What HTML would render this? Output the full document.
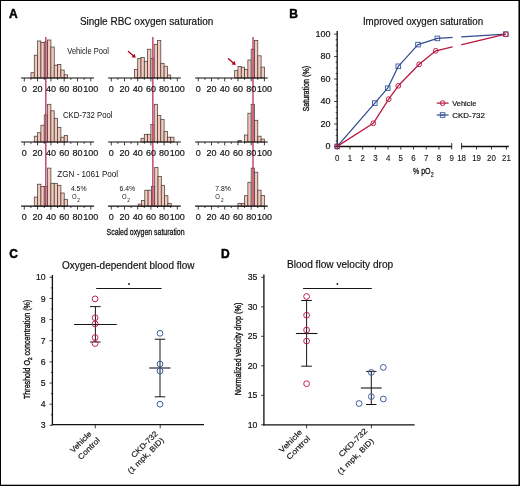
<!DOCTYPE html>
<html><head><meta charset="utf-8"><title>Figure</title>
<style>
html,body{margin:0;padding:0;background:#fff;}
body{width:520px;height:486px;overflow:hidden;}
svg{display:block;will-change:transform;}
text{font-family:"Liberation Sans", sans-serif;stroke:#111;stroke-width:0.18px;}
</style></head>
<body>
<svg width="520" height="486" viewBox="0 0 520 486" font-family="Liberation Sans, sans-serif">
<rect x="0" y="0" width="520" height="486" fill="#fff"/>
<g>
<rect x="30.95" y="72.70" width="3.33" height="5.30" fill="#F3CBBE" stroke="#4a3c3a" stroke-width="0.75"/>
<rect x="34.28" y="55.20" width="3.33" height="22.80" fill="#F3CBBE" stroke="#4a3c3a" stroke-width="0.75"/>
<rect x="37.60" y="41.00" width="3.33" height="37.00" fill="#F3CBBE" stroke="#4a3c3a" stroke-width="0.75"/>
<rect x="40.92" y="42.50" width="3.33" height="35.50" fill="#F3CBBE" stroke="#4a3c3a" stroke-width="0.75"/>
<rect x="44.25" y="42.00" width="3.33" height="36.00" fill="#F3CBBE" stroke="#4a3c3a" stroke-width="0.75"/>
<rect x="47.58" y="40.00" width="3.33" height="38.00" fill="#F3CBBE" stroke="#4a3c3a" stroke-width="0.75"/>
<rect x="50.90" y="47.00" width="3.33" height="31.00" fill="#F3CBBE" stroke="#4a3c3a" stroke-width="0.75"/>
<rect x="54.23" y="65.20" width="3.33" height="12.80" fill="#F3CBBE" stroke="#4a3c3a" stroke-width="0.75"/>
<rect x="57.55" y="64.40" width="3.33" height="13.60" fill="#F3CBBE" stroke="#4a3c3a" stroke-width="0.75"/>
<rect x="60.88" y="70.00" width="3.33" height="8.00" fill="#F3CBBE" stroke="#4a3c3a" stroke-width="0.75"/>
<rect x="64.20" y="74.80" width="3.33" height="3.20" fill="#F3CBBE" stroke="#4a3c3a" stroke-width="0.75"/>
<rect x="134.40" y="69.50" width="3.30" height="8.50" fill="#F3CBBE" stroke="#4a3c3a" stroke-width="0.75"/>
<rect x="137.70" y="58.40" width="3.30" height="19.60" fill="#F3CBBE" stroke="#4a3c3a" stroke-width="0.75"/>
<rect x="141.00" y="57.50" width="3.30" height="20.50" fill="#F3CBBE" stroke="#4a3c3a" stroke-width="0.75"/>
<rect x="144.30" y="61.30" width="3.30" height="16.70" fill="#F3CBBE" stroke="#4a3c3a" stroke-width="0.75"/>
<rect x="147.60" y="49.20" width="3.30" height="28.80" fill="#F3CBBE" stroke="#4a3c3a" stroke-width="0.75"/>
<rect x="150.90" y="58.40" width="3.30" height="19.60" fill="#F3CBBE" stroke="#4a3c3a" stroke-width="0.75"/>
<rect x="154.20" y="44.30" width="3.30" height="33.70" fill="#F3CBBE" stroke="#4a3c3a" stroke-width="0.75"/>
<rect x="157.50" y="40.40" width="3.30" height="37.60" fill="#F3CBBE" stroke="#4a3c3a" stroke-width="0.75"/>
<rect x="160.80" y="63.30" width="3.30" height="14.70" fill="#F3CBBE" stroke="#4a3c3a" stroke-width="0.75"/>
<rect x="164.10" y="66.20" width="3.30" height="11.80" fill="#F3CBBE" stroke="#4a3c3a" stroke-width="0.75"/>
<rect x="167.40" y="75.00" width="3.30" height="3.00" fill="#F3CBBE" stroke="#4a3c3a" stroke-width="0.75"/>
<rect x="234.66" y="70.50" width="3.31" height="7.50" fill="#F3CBBE" stroke="#4a3c3a" stroke-width="0.75"/>
<rect x="237.96" y="66.40" width="3.31" height="11.60" fill="#F3CBBE" stroke="#4a3c3a" stroke-width="0.75"/>
<rect x="241.27" y="67.20" width="3.31" height="10.80" fill="#F3CBBE" stroke="#4a3c3a" stroke-width="0.75"/>
<rect x="244.57" y="69.50" width="3.31" height="8.50" fill="#F3CBBE" stroke="#4a3c3a" stroke-width="0.75"/>
<rect x="247.88" y="60.00" width="3.31" height="18.00" fill="#F3CBBE" stroke="#4a3c3a" stroke-width="0.75"/>
<rect x="251.18" y="49.20" width="3.31" height="28.80" fill="#F3CBBE" stroke="#4a3c3a" stroke-width="0.75"/>
<rect x="254.49" y="40.40" width="3.31" height="37.60" fill="#F3CBBE" stroke="#4a3c3a" stroke-width="0.75"/>
<rect x="257.79" y="55.80" width="3.31" height="22.20" fill="#F3CBBE" stroke="#4a3c3a" stroke-width="0.75"/>
<rect x="261.10" y="67.10" width="3.31" height="10.90" fill="#F3CBBE" stroke="#4a3c3a" stroke-width="0.75"/>
<rect x="34.28" y="136.20" width="3.33" height="5.80" fill="#F3CBBE" stroke="#4a3c3a" stroke-width="0.75"/>
<rect x="37.60" y="132.70" width="3.33" height="9.30" fill="#F3CBBE" stroke="#4a3c3a" stroke-width="0.75"/>
<rect x="40.92" y="125.20" width="3.33" height="16.80" fill="#F3CBBE" stroke="#4a3c3a" stroke-width="0.75"/>
<rect x="44.25" y="114.90" width="3.33" height="27.10" fill="#F3CBBE" stroke="#4a3c3a" stroke-width="0.75"/>
<rect x="47.58" y="104.30" width="3.33" height="37.70" fill="#F3CBBE" stroke="#4a3c3a" stroke-width="0.75"/>
<rect x="50.90" y="110.80" width="3.33" height="31.20" fill="#F3CBBE" stroke="#4a3c3a" stroke-width="0.75"/>
<rect x="54.23" y="118.30" width="3.33" height="23.70" fill="#F3CBBE" stroke="#4a3c3a" stroke-width="0.75"/>
<rect x="57.55" y="127.60" width="3.33" height="14.40" fill="#F3CBBE" stroke="#4a3c3a" stroke-width="0.75"/>
<rect x="60.88" y="137.20" width="3.33" height="4.80" fill="#F3CBBE" stroke="#4a3c3a" stroke-width="0.75"/>
<rect x="64.20" y="135.50" width="3.33" height="6.50" fill="#F3CBBE" stroke="#4a3c3a" stroke-width="0.75"/>
<rect x="141.00" y="138.30" width="3.30" height="3.70" fill="#F3CBBE" stroke="#4a3c3a" stroke-width="0.75"/>
<rect x="144.30" y="134.30" width="3.30" height="7.70" fill="#F3CBBE" stroke="#4a3c3a" stroke-width="0.75"/>
<rect x="147.60" y="134.30" width="3.30" height="7.70" fill="#F3CBBE" stroke="#4a3c3a" stroke-width="0.75"/>
<rect x="150.90" y="124.50" width="3.30" height="17.50" fill="#F3CBBE" stroke="#4a3c3a" stroke-width="0.75"/>
<rect x="154.20" y="104.30" width="3.30" height="37.70" fill="#F3CBBE" stroke="#4a3c3a" stroke-width="0.75"/>
<rect x="157.50" y="115.60" width="3.30" height="26.40" fill="#F3CBBE" stroke="#4a3c3a" stroke-width="0.75"/>
<rect x="160.80" y="119.30" width="3.30" height="22.70" fill="#F3CBBE" stroke="#4a3c3a" stroke-width="0.75"/>
<rect x="164.10" y="131.40" width="3.30" height="10.60" fill="#F3CBBE" stroke="#4a3c3a" stroke-width="0.75"/>
<rect x="167.40" y="137.20" width="3.30" height="4.80" fill="#F3CBBE" stroke="#4a3c3a" stroke-width="0.75"/>
<rect x="170.70" y="137.20" width="3.30" height="4.80" fill="#F3CBBE" stroke="#4a3c3a" stroke-width="0.75"/>
<rect x="237.96" y="140.40" width="3.31" height="1.60" fill="#F3CBBE" stroke="#4a3c3a" stroke-width="0.75"/>
<rect x="244.57" y="135.00" width="3.31" height="7.00" fill="#F3CBBE" stroke="#4a3c3a" stroke-width="0.75"/>
<rect x="247.88" y="113.20" width="3.31" height="28.80" fill="#F3CBBE" stroke="#4a3c3a" stroke-width="0.75"/>
<rect x="251.18" y="104.30" width="3.31" height="37.70" fill="#F3CBBE" stroke="#4a3c3a" stroke-width="0.75"/>
<rect x="254.49" y="120.30" width="3.31" height="21.70" fill="#F3CBBE" stroke="#4a3c3a" stroke-width="0.75"/>
<rect x="257.79" y="136.20" width="3.31" height="5.80" fill="#F3CBBE" stroke="#4a3c3a" stroke-width="0.75"/>
<rect x="261.10" y="139.10" width="3.31" height="2.90" fill="#F3CBBE" stroke="#4a3c3a" stroke-width="0.75"/>
<rect x="34.28" y="197.10" width="3.33" height="9.10" fill="#F3CBBE" stroke="#4a3c3a" stroke-width="0.75"/>
<rect x="37.60" y="184.20" width="3.33" height="22.00" fill="#F3CBBE" stroke="#4a3c3a" stroke-width="0.75"/>
<rect x="40.92" y="186.60" width="3.33" height="19.60" fill="#F3CBBE" stroke="#4a3c3a" stroke-width="0.75"/>
<rect x="44.25" y="186.40" width="3.33" height="19.80" fill="#F3CBBE" stroke="#4a3c3a" stroke-width="0.75"/>
<rect x="47.58" y="168.10" width="3.33" height="38.10" fill="#F3CBBE" stroke="#4a3c3a" stroke-width="0.75"/>
<rect x="50.90" y="183.30" width="3.33" height="22.90" fill="#F3CBBE" stroke="#4a3c3a" stroke-width="0.75"/>
<rect x="54.23" y="183.30" width="3.33" height="22.90" fill="#F3CBBE" stroke="#4a3c3a" stroke-width="0.75"/>
<rect x="57.55" y="185.30" width="3.33" height="20.90" fill="#F3CBBE" stroke="#4a3c3a" stroke-width="0.75"/>
<rect x="60.88" y="193.00" width="3.33" height="13.20" fill="#F3CBBE" stroke="#4a3c3a" stroke-width="0.75"/>
<rect x="64.20" y="199.50" width="3.33" height="6.70" fill="#F3CBBE" stroke="#4a3c3a" stroke-width="0.75"/>
<rect x="138.20" y="204.10" width="3.30" height="2.10" fill="#F3CBBE" stroke="#4a3c3a" stroke-width="0.75"/>
<rect x="141.50" y="200.50" width="3.30" height="5.70" fill="#F3CBBE" stroke="#4a3c3a" stroke-width="0.75"/>
<rect x="144.80" y="190.20" width="3.30" height="16.00" fill="#F3CBBE" stroke="#4a3c3a" stroke-width="0.75"/>
<rect x="148.10" y="190.20" width="3.30" height="16.00" fill="#F3CBBE" stroke="#4a3c3a" stroke-width="0.75"/>
<rect x="151.40" y="186.40" width="3.30" height="19.80" fill="#F3CBBE" stroke="#4a3c3a" stroke-width="0.75"/>
<rect x="154.70" y="167.60" width="3.30" height="38.60" fill="#F3CBBE" stroke="#4a3c3a" stroke-width="0.75"/>
<rect x="158.00" y="176.50" width="3.30" height="29.70" fill="#F3CBBE" stroke="#4a3c3a" stroke-width="0.75"/>
<rect x="161.30" y="185.30" width="3.30" height="20.90" fill="#F3CBBE" stroke="#4a3c3a" stroke-width="0.75"/>
<rect x="164.60" y="195.70" width="3.30" height="10.50" fill="#F3CBBE" stroke="#4a3c3a" stroke-width="0.75"/>
<rect x="167.90" y="203.30" width="3.30" height="2.90" fill="#F3CBBE" stroke="#4a3c3a" stroke-width="0.75"/>
<rect x="237.96" y="203.30" width="3.31" height="2.90" fill="#F3CBBE" stroke="#4a3c3a" stroke-width="0.75"/>
<rect x="241.27" y="203.60" width="3.31" height="2.60" fill="#F3CBBE" stroke="#4a3c3a" stroke-width="0.75"/>
<rect x="244.57" y="195.70" width="3.31" height="10.50" fill="#F3CBBE" stroke="#4a3c3a" stroke-width="0.75"/>
<rect x="247.88" y="182.30" width="3.31" height="23.90" fill="#F3CBBE" stroke="#4a3c3a" stroke-width="0.75"/>
<rect x="251.18" y="168.10" width="3.31" height="38.10" fill="#F3CBBE" stroke="#4a3c3a" stroke-width="0.75"/>
<rect x="254.49" y="172.20" width="3.31" height="34.00" fill="#F3CBBE" stroke="#4a3c3a" stroke-width="0.75"/>
<rect x="257.79" y="190.20" width="3.31" height="16.00" fill="#F3CBBE" stroke="#4a3c3a" stroke-width="0.75"/>
<rect x="261.10" y="195.60" width="3.31" height="10.60" fill="#F3CBBE" stroke="#4a3c3a" stroke-width="0.75"/>
</g>
<line x1="45.8" y1="36.9" x2="45.8" y2="206.3" stroke="#BE3C68" stroke-width="1.4"/>
<line x1="152.85" y1="36.9" x2="152.85" y2="206.3" stroke="#BE3C68" stroke-width="1.4"/>
<line x1="253.0" y1="36.9" x2="253.0" y2="206.3" stroke="#BE3C68" stroke-width="1.4"/>
<line x1="21.1" y1="78.0" x2="94.0" y2="78.0" stroke="#111" stroke-width="1.2"/>
<line x1="24.30" y1="78.0" x2="24.30" y2="81.4" stroke="#111" stroke-width="0.8"/>
<line x1="30.95" y1="78.0" x2="30.95" y2="79.8" stroke="#111" stroke-width="0.8"/>
<line x1="37.60" y1="78.0" x2="37.60" y2="81.4" stroke="#111" stroke-width="0.8"/>
<line x1="44.25" y1="78.0" x2="44.25" y2="79.8" stroke="#111" stroke-width="0.8"/>
<line x1="50.90" y1="78.0" x2="50.90" y2="81.4" stroke="#111" stroke-width="0.8"/>
<line x1="57.55" y1="78.0" x2="57.55" y2="79.8" stroke="#111" stroke-width="0.8"/>
<line x1="64.20" y1="78.0" x2="64.20" y2="81.4" stroke="#111" stroke-width="0.8"/>
<line x1="70.85" y1="78.0" x2="70.85" y2="79.8" stroke="#111" stroke-width="0.8"/>
<line x1="77.50" y1="78.0" x2="77.50" y2="81.4" stroke="#111" stroke-width="0.8"/>
<line x1="84.15" y1="78.0" x2="84.15" y2="79.8" stroke="#111" stroke-width="0.8"/>
<line x1="90.80" y1="78.0" x2="90.80" y2="81.4" stroke="#111" stroke-width="0.8"/>
<text x="24.30" y="91.80" font-size="9.0" text-anchor="middle" fill="#111" >0</text>
<text x="37.60" y="91.80" font-size="9.0" text-anchor="middle" fill="#111" >20</text>
<text x="50.90" y="91.80" font-size="9.0" text-anchor="middle" fill="#111" >40</text>
<text x="64.20" y="91.80" font-size="9.0" text-anchor="middle" fill="#111" >60</text>
<text x="77.50" y="91.80" font-size="9.0" text-anchor="middle" fill="#111" >80</text>
<text x="90.80" y="91.80" font-size="9.0" text-anchor="middle" fill="#111" >100</text>
<line x1="108.1" y1="78.0" x2="180.8" y2="78.0" stroke="#111" stroke-width="1.2"/>
<line x1="111.30" y1="78.0" x2="111.30" y2="81.4" stroke="#111" stroke-width="0.8"/>
<line x1="117.90" y1="78.0" x2="117.90" y2="79.8" stroke="#111" stroke-width="0.8"/>
<line x1="124.50" y1="78.0" x2="124.50" y2="81.4" stroke="#111" stroke-width="0.8"/>
<line x1="131.10" y1="78.0" x2="131.10" y2="79.8" stroke="#111" stroke-width="0.8"/>
<line x1="137.70" y1="78.0" x2="137.70" y2="81.4" stroke="#111" stroke-width="0.8"/>
<line x1="144.30" y1="78.0" x2="144.30" y2="79.8" stroke="#111" stroke-width="0.8"/>
<line x1="150.90" y1="78.0" x2="150.90" y2="81.4" stroke="#111" stroke-width="0.8"/>
<line x1="157.50" y1="78.0" x2="157.50" y2="79.8" stroke="#111" stroke-width="0.8"/>
<line x1="164.10" y1="78.0" x2="164.10" y2="81.4" stroke="#111" stroke-width="0.8"/>
<line x1="170.70" y1="78.0" x2="170.70" y2="79.8" stroke="#111" stroke-width="0.8"/>
<line x1="177.30" y1="78.0" x2="177.30" y2="81.4" stroke="#111" stroke-width="0.8"/>
<text x="111.30" y="91.80" font-size="9.0" text-anchor="middle" fill="#111" >0</text>
<text x="124.50" y="91.80" font-size="9.0" text-anchor="middle" fill="#111" >20</text>
<text x="137.70" y="91.80" font-size="9.0" text-anchor="middle" fill="#111" >40</text>
<text x="150.90" y="91.80" font-size="9.0" text-anchor="middle" fill="#111" >60</text>
<text x="164.10" y="91.80" font-size="9.0" text-anchor="middle" fill="#111" >80</text>
<text x="177.30" y="91.80" font-size="9.0" text-anchor="middle" fill="#111" >100</text>
<line x1="195.1" y1="78.0" x2="267.8" y2="78.0" stroke="#111" stroke-width="1.2"/>
<line x1="198.30" y1="78.0" x2="198.30" y2="81.4" stroke="#111" stroke-width="0.8"/>
<line x1="204.91" y1="78.0" x2="204.91" y2="79.8" stroke="#111" stroke-width="0.8"/>
<line x1="211.52" y1="78.0" x2="211.52" y2="81.4" stroke="#111" stroke-width="0.8"/>
<line x1="218.13" y1="78.0" x2="218.13" y2="79.8" stroke="#111" stroke-width="0.8"/>
<line x1="224.74" y1="78.0" x2="224.74" y2="81.4" stroke="#111" stroke-width="0.8"/>
<line x1="231.35" y1="78.0" x2="231.35" y2="79.8" stroke="#111" stroke-width="0.8"/>
<line x1="237.96" y1="78.0" x2="237.96" y2="81.4" stroke="#111" stroke-width="0.8"/>
<line x1="244.57" y1="78.0" x2="244.57" y2="79.8" stroke="#111" stroke-width="0.8"/>
<line x1="251.18" y1="78.0" x2="251.18" y2="81.4" stroke="#111" stroke-width="0.8"/>
<line x1="257.79" y1="78.0" x2="257.79" y2="79.8" stroke="#111" stroke-width="0.8"/>
<line x1="264.40" y1="78.0" x2="264.40" y2="81.4" stroke="#111" stroke-width="0.8"/>
<text x="198.30" y="91.80" font-size="9.0" text-anchor="middle" fill="#111" >0</text>
<text x="211.52" y="91.80" font-size="9.0" text-anchor="middle" fill="#111" >20</text>
<text x="224.74" y="91.80" font-size="9.0" text-anchor="middle" fill="#111" >40</text>
<text x="237.96" y="91.80" font-size="9.0" text-anchor="middle" fill="#111" >60</text>
<text x="251.18" y="91.80" font-size="9.0" text-anchor="middle" fill="#111" >80</text>
<text x="264.40" y="91.80" font-size="9.0" text-anchor="middle" fill="#111" >100</text>
<line x1="21.1" y1="142.0" x2="94.0" y2="142.0" stroke="#111" stroke-width="1.2"/>
<line x1="24.30" y1="142.0" x2="24.30" y2="145.4" stroke="#111" stroke-width="0.8"/>
<line x1="30.95" y1="142.0" x2="30.95" y2="143.8" stroke="#111" stroke-width="0.8"/>
<line x1="37.60" y1="142.0" x2="37.60" y2="145.4" stroke="#111" stroke-width="0.8"/>
<line x1="44.25" y1="142.0" x2="44.25" y2="143.8" stroke="#111" stroke-width="0.8"/>
<line x1="50.90" y1="142.0" x2="50.90" y2="145.4" stroke="#111" stroke-width="0.8"/>
<line x1="57.55" y1="142.0" x2="57.55" y2="143.8" stroke="#111" stroke-width="0.8"/>
<line x1="64.20" y1="142.0" x2="64.20" y2="145.4" stroke="#111" stroke-width="0.8"/>
<line x1="70.85" y1="142.0" x2="70.85" y2="143.8" stroke="#111" stroke-width="0.8"/>
<line x1="77.50" y1="142.0" x2="77.50" y2="145.4" stroke="#111" stroke-width="0.8"/>
<line x1="84.15" y1="142.0" x2="84.15" y2="143.8" stroke="#111" stroke-width="0.8"/>
<line x1="90.80" y1="142.0" x2="90.80" y2="145.4" stroke="#111" stroke-width="0.8"/>
<text x="24.30" y="155.80" font-size="9.0" text-anchor="middle" fill="#111" >0</text>
<text x="37.60" y="155.80" font-size="9.0" text-anchor="middle" fill="#111" >20</text>
<text x="50.90" y="155.80" font-size="9.0" text-anchor="middle" fill="#111" >40</text>
<text x="64.20" y="155.80" font-size="9.0" text-anchor="middle" fill="#111" >60</text>
<text x="77.50" y="155.80" font-size="9.0" text-anchor="middle" fill="#111" >80</text>
<text x="90.80" y="155.80" font-size="9.0" text-anchor="middle" fill="#111" >100</text>
<line x1="108.1" y1="142.0" x2="180.8" y2="142.0" stroke="#111" stroke-width="1.2"/>
<line x1="111.30" y1="142.0" x2="111.30" y2="145.4" stroke="#111" stroke-width="0.8"/>
<line x1="117.90" y1="142.0" x2="117.90" y2="143.8" stroke="#111" stroke-width="0.8"/>
<line x1="124.50" y1="142.0" x2="124.50" y2="145.4" stroke="#111" stroke-width="0.8"/>
<line x1="131.10" y1="142.0" x2="131.10" y2="143.8" stroke="#111" stroke-width="0.8"/>
<line x1="137.70" y1="142.0" x2="137.70" y2="145.4" stroke="#111" stroke-width="0.8"/>
<line x1="144.30" y1="142.0" x2="144.30" y2="143.8" stroke="#111" stroke-width="0.8"/>
<line x1="150.90" y1="142.0" x2="150.90" y2="145.4" stroke="#111" stroke-width="0.8"/>
<line x1="157.50" y1="142.0" x2="157.50" y2="143.8" stroke="#111" stroke-width="0.8"/>
<line x1="164.10" y1="142.0" x2="164.10" y2="145.4" stroke="#111" stroke-width="0.8"/>
<line x1="170.70" y1="142.0" x2="170.70" y2="143.8" stroke="#111" stroke-width="0.8"/>
<line x1="177.30" y1="142.0" x2="177.30" y2="145.4" stroke="#111" stroke-width="0.8"/>
<text x="111.30" y="155.80" font-size="9.0" text-anchor="middle" fill="#111" >0</text>
<text x="124.50" y="155.80" font-size="9.0" text-anchor="middle" fill="#111" >20</text>
<text x="137.70" y="155.80" font-size="9.0" text-anchor="middle" fill="#111" >40</text>
<text x="150.90" y="155.80" font-size="9.0" text-anchor="middle" fill="#111" >60</text>
<text x="164.10" y="155.80" font-size="9.0" text-anchor="middle" fill="#111" >80</text>
<text x="177.30" y="155.80" font-size="9.0" text-anchor="middle" fill="#111" >100</text>
<line x1="195.1" y1="142.0" x2="267.8" y2="142.0" stroke="#111" stroke-width="1.2"/>
<line x1="198.30" y1="142.0" x2="198.30" y2="145.4" stroke="#111" stroke-width="0.8"/>
<line x1="204.91" y1="142.0" x2="204.91" y2="143.8" stroke="#111" stroke-width="0.8"/>
<line x1="211.52" y1="142.0" x2="211.52" y2="145.4" stroke="#111" stroke-width="0.8"/>
<line x1="218.13" y1="142.0" x2="218.13" y2="143.8" stroke="#111" stroke-width="0.8"/>
<line x1="224.74" y1="142.0" x2="224.74" y2="145.4" stroke="#111" stroke-width="0.8"/>
<line x1="231.35" y1="142.0" x2="231.35" y2="143.8" stroke="#111" stroke-width="0.8"/>
<line x1="237.96" y1="142.0" x2="237.96" y2="145.4" stroke="#111" stroke-width="0.8"/>
<line x1="244.57" y1="142.0" x2="244.57" y2="143.8" stroke="#111" stroke-width="0.8"/>
<line x1="251.18" y1="142.0" x2="251.18" y2="145.4" stroke="#111" stroke-width="0.8"/>
<line x1="257.79" y1="142.0" x2="257.79" y2="143.8" stroke="#111" stroke-width="0.8"/>
<line x1="264.40" y1="142.0" x2="264.40" y2="145.4" stroke="#111" stroke-width="0.8"/>
<text x="198.30" y="155.80" font-size="9.0" text-anchor="middle" fill="#111" >0</text>
<text x="211.52" y="155.80" font-size="9.0" text-anchor="middle" fill="#111" >20</text>
<text x="224.74" y="155.80" font-size="9.0" text-anchor="middle" fill="#111" >40</text>
<text x="237.96" y="155.80" font-size="9.0" text-anchor="middle" fill="#111" >60</text>
<text x="251.18" y="155.80" font-size="9.0" text-anchor="middle" fill="#111" >80</text>
<text x="264.40" y="155.80" font-size="9.0" text-anchor="middle" fill="#111" >100</text>
<line x1="21.1" y1="206.2" x2="94.0" y2="206.2" stroke="#111" stroke-width="1.2"/>
<line x1="24.30" y1="206.2" x2="24.30" y2="209.6" stroke="#111" stroke-width="0.8"/>
<line x1="30.95" y1="206.2" x2="30.95" y2="208.0" stroke="#111" stroke-width="0.8"/>
<line x1="37.60" y1="206.2" x2="37.60" y2="209.6" stroke="#111" stroke-width="0.8"/>
<line x1="44.25" y1="206.2" x2="44.25" y2="208.0" stroke="#111" stroke-width="0.8"/>
<line x1="50.90" y1="206.2" x2="50.90" y2="209.6" stroke="#111" stroke-width="0.8"/>
<line x1="57.55" y1="206.2" x2="57.55" y2="208.0" stroke="#111" stroke-width="0.8"/>
<line x1="64.20" y1="206.2" x2="64.20" y2="209.6" stroke="#111" stroke-width="0.8"/>
<line x1="70.85" y1="206.2" x2="70.85" y2="208.0" stroke="#111" stroke-width="0.8"/>
<line x1="77.50" y1="206.2" x2="77.50" y2="209.6" stroke="#111" stroke-width="0.8"/>
<line x1="84.15" y1="206.2" x2="84.15" y2="208.0" stroke="#111" stroke-width="0.8"/>
<line x1="90.80" y1="206.2" x2="90.80" y2="209.6" stroke="#111" stroke-width="0.8"/>
<text x="24.30" y="220.00" font-size="9.0" text-anchor="middle" fill="#111" >0</text>
<text x="37.60" y="220.00" font-size="9.0" text-anchor="middle" fill="#111" >20</text>
<text x="50.90" y="220.00" font-size="9.0" text-anchor="middle" fill="#111" >40</text>
<text x="64.20" y="220.00" font-size="9.0" text-anchor="middle" fill="#111" >60</text>
<text x="77.50" y="220.00" font-size="9.0" text-anchor="middle" fill="#111" >80</text>
<text x="90.80" y="220.00" font-size="9.0" text-anchor="middle" fill="#111" >100</text>
<line x1="108.1" y1="206.2" x2="180.8" y2="206.2" stroke="#111" stroke-width="1.2"/>
<line x1="111.30" y1="206.2" x2="111.30" y2="209.6" stroke="#111" stroke-width="0.8"/>
<line x1="117.90" y1="206.2" x2="117.90" y2="208.0" stroke="#111" stroke-width="0.8"/>
<line x1="124.50" y1="206.2" x2="124.50" y2="209.6" stroke="#111" stroke-width="0.8"/>
<line x1="131.10" y1="206.2" x2="131.10" y2="208.0" stroke="#111" stroke-width="0.8"/>
<line x1="137.70" y1="206.2" x2="137.70" y2="209.6" stroke="#111" stroke-width="0.8"/>
<line x1="144.30" y1="206.2" x2="144.30" y2="208.0" stroke="#111" stroke-width="0.8"/>
<line x1="150.90" y1="206.2" x2="150.90" y2="209.6" stroke="#111" stroke-width="0.8"/>
<line x1="157.50" y1="206.2" x2="157.50" y2="208.0" stroke="#111" stroke-width="0.8"/>
<line x1="164.10" y1="206.2" x2="164.10" y2="209.6" stroke="#111" stroke-width="0.8"/>
<line x1="170.70" y1="206.2" x2="170.70" y2="208.0" stroke="#111" stroke-width="0.8"/>
<line x1="177.30" y1="206.2" x2="177.30" y2="209.6" stroke="#111" stroke-width="0.8"/>
<text x="111.30" y="220.00" font-size="9.0" text-anchor="middle" fill="#111" >0</text>
<text x="124.50" y="220.00" font-size="9.0" text-anchor="middle" fill="#111" >20</text>
<text x="137.70" y="220.00" font-size="9.0" text-anchor="middle" fill="#111" >40</text>
<text x="150.90" y="220.00" font-size="9.0" text-anchor="middle" fill="#111" >60</text>
<text x="164.10" y="220.00" font-size="9.0" text-anchor="middle" fill="#111" >80</text>
<text x="177.30" y="220.00" font-size="9.0" text-anchor="middle" fill="#111" >100</text>
<line x1="195.1" y1="206.2" x2="267.8" y2="206.2" stroke="#111" stroke-width="1.2"/>
<line x1="198.30" y1="206.2" x2="198.30" y2="209.6" stroke="#111" stroke-width="0.8"/>
<line x1="204.91" y1="206.2" x2="204.91" y2="208.0" stroke="#111" stroke-width="0.8"/>
<line x1="211.52" y1="206.2" x2="211.52" y2="209.6" stroke="#111" stroke-width="0.8"/>
<line x1="218.13" y1="206.2" x2="218.13" y2="208.0" stroke="#111" stroke-width="0.8"/>
<line x1="224.74" y1="206.2" x2="224.74" y2="209.6" stroke="#111" stroke-width="0.8"/>
<line x1="231.35" y1="206.2" x2="231.35" y2="208.0" stroke="#111" stroke-width="0.8"/>
<line x1="237.96" y1="206.2" x2="237.96" y2="209.6" stroke="#111" stroke-width="0.8"/>
<line x1="244.57" y1="206.2" x2="244.57" y2="208.0" stroke="#111" stroke-width="0.8"/>
<line x1="251.18" y1="206.2" x2="251.18" y2="209.6" stroke="#111" stroke-width="0.8"/>
<line x1="257.79" y1="206.2" x2="257.79" y2="208.0" stroke="#111" stroke-width="0.8"/>
<line x1="264.40" y1="206.2" x2="264.40" y2="209.6" stroke="#111" stroke-width="0.8"/>
<text x="198.30" y="220.00" font-size="9.0" text-anchor="middle" fill="#111" >0</text>
<text x="211.52" y="220.00" font-size="9.0" text-anchor="middle" fill="#111" >20</text>
<text x="224.74" y="220.00" font-size="9.0" text-anchor="middle" fill="#111" >40</text>
<text x="237.96" y="220.00" font-size="9.0" text-anchor="middle" fill="#111" >60</text>
<text x="251.18" y="220.00" font-size="9.0" text-anchor="middle" fill="#111" >80</text>
<text x="264.40" y="220.00" font-size="9.0" text-anchor="middle" fill="#111" >100</text>
<line x1="128.4" y1="51.5" x2="133.06" y2="55.47" stroke="#B0001E" stroke-width="1.3" stroke-linecap="round"/>
<polygon points="135.8,57.8 131.57,57.22 134.55,53.72" fill="#B0001E"/>
<line x1="228.4" y1="58.7" x2="233.08" y2="62.75" stroke="#B0001E" stroke-width="1.3" stroke-linecap="round"/>
<polygon points="235.8,65.1 231.57,64.48 234.58,61.01" fill="#B0001E"/>
<text x="9.1" y="17.7" font-size="12" font-weight="bold" fill="#000" style="stroke:#000;stroke-width:0.45px">A</text>
<text x="79.9" y="24.9" font-size="10.3" textLength="133.4" lengthAdjust="spacingAndGlyphs" fill="#111" >Single RBC oxygen saturation</text>
<text x="67.3" y="53.8" font-size="8.4" textLength="41.6" lengthAdjust="spacingAndGlyphs" fill="#111" style="stroke:none">Vehicle Pool</text>
<text x="62.9" y="117.7" font-size="8.4" textLength="49.7" lengthAdjust="spacingAndGlyphs" fill="#111" style="stroke:none">CKD-732 Pool</text>
<text x="57.3" y="176.5" font-size="8.4" textLength="60.8" lengthAdjust="spacingAndGlyphs" fill="#111" style="stroke:none">ZGN - 1061 Pool</text>
<text x="70.9" y="190.9" font-size="6.8" textLength="15.6" lengthAdjust="spacingAndGlyphs" fill="#111" style="stroke:none">4.5%</text>
<text x="71.9" y="199.4" font-size="7.9" textLength="4.6" lengthAdjust="spacingAndGlyphs" fill="#111" style="stroke:none">O</text>
<text x="77.2" y="201.6" font-size="5.0" textLength="2.6" lengthAdjust="spacingAndGlyphs" fill="#111" style="stroke:none">2</text>
<text x="119.5" y="190.9" font-size="6.8" textLength="15.6" lengthAdjust="spacingAndGlyphs" fill="#111" style="stroke:none">6.4%</text>
<text x="121.9" y="199.4" font-size="7.9" textLength="4.6" lengthAdjust="spacingAndGlyphs" fill="#111" style="stroke:none">O</text>
<text x="127.2" y="201.6" font-size="5.0" textLength="2.6" lengthAdjust="spacingAndGlyphs" fill="#111" style="stroke:none">2</text>
<text x="215.2" y="190.9" font-size="6.8" textLength="15.6" lengthAdjust="spacingAndGlyphs" fill="#111" style="stroke:none">7.8%</text>
<text x="215.2" y="199.4" font-size="7.9" textLength="4.6" lengthAdjust="spacingAndGlyphs" fill="#111" style="stroke:none">O</text>
<text x="220.9" y="201.6" font-size="5.0" textLength="2.6" lengthAdjust="spacingAndGlyphs" fill="#111" style="stroke:none">2</text>
<text x="106.6" y="234.5" font-size="9.8" textLength="78.0" lengthAdjust="spacingAndGlyphs" fill="#111" style="stroke-width:0.3px">Scaled oxygen saturation</text>
<text x="289.2" y="18.0" font-size="12" font-weight="bold" fill="#000" style="stroke:#000;stroke-width:0.45px">B</text>
<text x="362.9" y="25.1" font-size="10.3" textLength="120.2" lengthAdjust="spacingAndGlyphs" fill="#111" >Improved oxygen saturation</text>
<line x1="337.2" y1="31.0" x2="337.2" y2="147.1" stroke="#111" stroke-width="1.3"/>
<line x1="334.09999999999997" y1="146.50" x2="337.2" y2="146.50" stroke="#111" stroke-width="0.8"/>
<text x="330.6" y="149.30" font-size="9.0" text-anchor="end" fill="#111" >0</text>
<line x1="335.7" y1="140.88" x2="337.2" y2="140.88" stroke="#111" stroke-width="0.8"/>
<line x1="335.7" y1="135.26" x2="337.2" y2="135.26" stroke="#111" stroke-width="0.8"/>
<line x1="335.7" y1="129.64" x2="337.2" y2="129.64" stroke="#111" stroke-width="0.8"/>
<line x1="334.09999999999997" y1="124.02" x2="337.2" y2="124.02" stroke="#111" stroke-width="0.8"/>
<text x="330.6" y="126.82" font-size="9.0" text-anchor="end" fill="#111" >20</text>
<line x1="335.7" y1="118.40" x2="337.2" y2="118.40" stroke="#111" stroke-width="0.8"/>
<line x1="335.7" y1="112.78" x2="337.2" y2="112.78" stroke="#111" stroke-width="0.8"/>
<line x1="335.7" y1="107.16" x2="337.2" y2="107.16" stroke="#111" stroke-width="0.8"/>
<line x1="334.09999999999997" y1="101.54" x2="337.2" y2="101.54" stroke="#111" stroke-width="0.8"/>
<text x="330.6" y="104.34" font-size="9.0" text-anchor="end" fill="#111" >40</text>
<line x1="335.7" y1="95.92" x2="337.2" y2="95.92" stroke="#111" stroke-width="0.8"/>
<line x1="335.7" y1="90.30" x2="337.2" y2="90.30" stroke="#111" stroke-width="0.8"/>
<line x1="335.7" y1="84.68" x2="337.2" y2="84.68" stroke="#111" stroke-width="0.8"/>
<line x1="334.09999999999997" y1="79.06" x2="337.2" y2="79.06" stroke="#111" stroke-width="0.8"/>
<text x="330.6" y="81.86" font-size="9.0" text-anchor="end" fill="#111" >60</text>
<line x1="335.7" y1="73.44" x2="337.2" y2="73.44" stroke="#111" stroke-width="0.8"/>
<line x1="335.7" y1="67.82" x2="337.2" y2="67.82" stroke="#111" stroke-width="0.8"/>
<line x1="335.7" y1="62.20" x2="337.2" y2="62.20" stroke="#111" stroke-width="0.8"/>
<line x1="334.09999999999997" y1="56.58" x2="337.2" y2="56.58" stroke="#111" stroke-width="0.8"/>
<text x="330.6" y="59.38" font-size="9.0" text-anchor="end" fill="#111" >80</text>
<line x1="335.7" y1="50.96" x2="337.2" y2="50.96" stroke="#111" stroke-width="0.8"/>
<line x1="335.7" y1="45.34" x2="337.2" y2="45.34" stroke="#111" stroke-width="0.8"/>
<line x1="335.7" y1="39.72" x2="337.2" y2="39.72" stroke="#111" stroke-width="0.8"/>
<line x1="334.09999999999997" y1="34.10" x2="337.2" y2="34.10" stroke="#111" stroke-width="0.8"/>
<text x="330.6" y="36.90" font-size="9.0" text-anchor="end" fill="#111" >100</text>
<line x1="336.59999999999997" y1="146.5" x2="451.7" y2="146.5" stroke="#111" stroke-width="1.3"/>
<line x1="461.6" y1="146.5" x2="508.7" y2="146.5" stroke="#111" stroke-width="1.3"/>
<line x1="451.7" y1="143.1" x2="451.7" y2="149.4" stroke="#111" stroke-width="0.9"/>
<line x1="461.6" y1="143.1" x2="461.6" y2="149.4" stroke="#111" stroke-width="0.9"/>
<line x1="337.20" y1="146.5" x2="337.20" y2="149.6" stroke="#111" stroke-width="0.8"/>
<text x="337.20" y="160.6" font-size="9.0" text-anchor="middle" textLength="4.4" lengthAdjust="spacingAndGlyphs" fill="#111" style="stroke-width:0.1px">0</text>
<line x1="349.92" y1="146.5" x2="349.92" y2="149.6" stroke="#111" stroke-width="0.8"/>
<text x="349.92" y="160.6" font-size="9.0" text-anchor="middle" textLength="4.4" lengthAdjust="spacingAndGlyphs" fill="#111" style="stroke-width:0.1px">1</text>
<line x1="362.64" y1="146.5" x2="362.64" y2="149.6" stroke="#111" stroke-width="0.8"/>
<text x="362.64" y="160.6" font-size="9.0" text-anchor="middle" textLength="4.4" lengthAdjust="spacingAndGlyphs" fill="#111" style="stroke-width:0.1px">2</text>
<line x1="375.36" y1="146.5" x2="375.36" y2="149.6" stroke="#111" stroke-width="0.8"/>
<text x="375.36" y="160.6" font-size="9.0" text-anchor="middle" textLength="4.4" lengthAdjust="spacingAndGlyphs" fill="#111" style="stroke-width:0.1px">3</text>
<line x1="388.08" y1="146.5" x2="388.08" y2="149.6" stroke="#111" stroke-width="0.8"/>
<text x="388.08" y="160.6" font-size="9.0" text-anchor="middle" textLength="4.4" lengthAdjust="spacingAndGlyphs" fill="#111" style="stroke-width:0.1px">4</text>
<line x1="400.80" y1="146.5" x2="400.80" y2="149.6" stroke="#111" stroke-width="0.8"/>
<text x="400.80" y="160.6" font-size="9.0" text-anchor="middle" textLength="4.4" lengthAdjust="spacingAndGlyphs" fill="#111" style="stroke-width:0.1px">5</text>
<line x1="413.52" y1="146.5" x2="413.52" y2="149.6" stroke="#111" stroke-width="0.8"/>
<text x="413.52" y="160.6" font-size="9.0" text-anchor="middle" textLength="4.4" lengthAdjust="spacingAndGlyphs" fill="#111" style="stroke-width:0.1px">6</text>
<line x1="426.24" y1="146.5" x2="426.24" y2="149.6" stroke="#111" stroke-width="0.8"/>
<text x="426.24" y="160.6" font-size="9.0" text-anchor="middle" textLength="4.4" lengthAdjust="spacingAndGlyphs" fill="#111" style="stroke-width:0.1px">7</text>
<line x1="438.96" y1="146.5" x2="438.96" y2="149.6" stroke="#111" stroke-width="0.8"/>
<text x="438.96" y="160.6" font-size="9.0" text-anchor="middle" textLength="4.4" lengthAdjust="spacingAndGlyphs" fill="#111" style="stroke-width:0.1px">8</text>
<text x="451.68" y="160.6" font-size="9.0" text-anchor="middle" textLength="4.4" lengthAdjust="spacingAndGlyphs" fill="#111" style="stroke-width:0.1px">9</text>
<text x="461.60" y="160.6" font-size="9.0" text-anchor="middle" textLength="8.8" lengthAdjust="spacingAndGlyphs" fill="#111" style="stroke-width:0.1px">18</text>
<line x1="476.55" y1="146.5" x2="476.55" y2="149.6" stroke="#111" stroke-width="0.8"/>
<text x="476.55" y="160.6" font-size="9.0" text-anchor="middle" textLength="8.8" lengthAdjust="spacingAndGlyphs" fill="#111" style="stroke-width:0.1px">19</text>
<line x1="491.50" y1="146.5" x2="491.50" y2="149.6" stroke="#111" stroke-width="0.8"/>
<text x="491.50" y="160.6" font-size="9.0" text-anchor="middle" textLength="8.8" lengthAdjust="spacingAndGlyphs" fill="#111" style="stroke-width:0.1px">20</text>
<line x1="506.45" y1="146.5" x2="506.45" y2="149.6" stroke="#111" stroke-width="0.8"/>
<text x="506.45" y="160.6" font-size="9.0" text-anchor="middle" textLength="8.8" lengthAdjust="spacingAndGlyphs" fill="#111" style="stroke-width:0.1px">21</text>
<text x="413.0" y="174.4" font-size="9.8" textLength="17.6" lengthAdjust="spacingAndGlyphs" fill="#111" style="stroke-width:0.3px">% pO</text>
<text x="430.7" y="176.9" font-size="6.6" textLength="2.9" lengthAdjust="spacingAndGlyphs" fill="#111" >2</text>
<text x="0" y="0" font-size="9.6" textLength="45.8" lengthAdjust="spacingAndGlyphs" fill="#111" style="stroke-width:0.35px" transform="translate(309.3,111.6) rotate(-90)">Saturation (%)</text>
<polyline points="337.2,146.4 374.8,103.1 387.7,88.2 398.3,66.3 418.0,44.6 437.4,38.4 505.8,34.2" fill="none" stroke="#2E4C8E" stroke-width="1.25" stroke-linejoin="round"/>
<polyline points="337.2,146.4 373.3,123.3 388.7,99.2 398.3,85.8 419.2,64.3 435.8,50.8 505.8,34.2" fill="none" stroke="#B8163F" stroke-width="1.25" stroke-linejoin="round"/>
<rect x="452.6" y="28" width="8.6" height="30" fill="#fff"/>
<rect x="334.90" y="144.10" width="4.6" height="4.6" fill="none" stroke="#36559A" stroke-width="0.9"/>
<rect x="372.50" y="100.80" width="4.6" height="4.6" fill="none" stroke="#36559A" stroke-width="0.9"/>
<rect x="385.40" y="85.90" width="4.6" height="4.6" fill="none" stroke="#36559A" stroke-width="0.9"/>
<rect x="396.00" y="64.00" width="4.6" height="4.6" fill="none" stroke="#36559A" stroke-width="0.9"/>
<rect x="415.70" y="42.30" width="4.6" height="4.6" fill="none" stroke="#36559A" stroke-width="0.9"/>
<rect x="435.10" y="36.10" width="4.6" height="4.6" fill="none" stroke="#36559A" stroke-width="0.9"/>
<rect x="503.50" y="31.90" width="4.6" height="4.6" fill="none" stroke="#36559A" stroke-width="0.9"/>
<circle cx="337.2" cy="146.4" r="2.4" fill="none" stroke="#B8163F" stroke-width="0.95"/>
<circle cx="373.3" cy="123.3" r="2.4" fill="none" stroke="#B8163F" stroke-width="0.95"/>
<circle cx="388.7" cy="99.2" r="2.4" fill="none" stroke="#B8163F" stroke-width="0.95"/>
<circle cx="398.3" cy="85.8" r="2.4" fill="none" stroke="#B8163F" stroke-width="0.95"/>
<circle cx="419.2" cy="64.3" r="2.4" fill="none" stroke="#B8163F" stroke-width="0.95"/>
<circle cx="435.8" cy="50.8" r="2.4" fill="none" stroke="#B8163F" stroke-width="0.95"/>
<circle cx="505.8" cy="34.2" r="2.4" fill="none" stroke="#B8163F" stroke-width="0.95"/>
<line x1="436.7" y1="103.1" x2="448.6" y2="103.1" stroke="#B8163F" stroke-width="1.2"/>
<circle cx="442.6" cy="103.1" r="2.4" fill="none" stroke="#B8163F" stroke-width="0.95"/>
<line x1="436.7" y1="115.0" x2="448.6" y2="115.0" stroke="#2E4C8E" stroke-width="1.2"/>
<rect x="440.3" y="112.7" width="4.6" height="4.6" fill="none" stroke="#36559A" stroke-width="0.9"/>
<line x1="440.5" y1="115.0" x2="444.7" y2="115.0" stroke="#2E4C8E" stroke-width="1.0"/>
<text x="452.3" y="105.8" font-size="7.9" textLength="24.0" lengthAdjust="spacingAndGlyphs" fill="#111" >Vehicle</text>
<text x="452.3" y="118.1" font-size="8.1" textLength="32.6" lengthAdjust="spacingAndGlyphs" fill="#111" >CKD-732</text>
<text x="9.3" y="258.0" font-size="12" font-weight="bold" fill="#000" style="stroke:#000;stroke-width:0.45px">C</text>
<text x="61.9" y="269.0" font-size="10.3" textLength="132.6" lengthAdjust="spacingAndGlyphs" fill="#111" >Oxygen-dependent blood flow</text>
<line x1="52.4" y1="275.0" x2="52.4" y2="425.2" stroke="#111" stroke-width="1.3"/>
<line x1="51.8" y1="424.7" x2="204.0" y2="424.7" stroke="#111" stroke-width="1.3"/>
<line x1="49.6" y1="425.35" x2="52.4" y2="425.35" stroke="#111" stroke-width="0.8"/>
<text x="45.6" y="428.45" font-size="8.7" text-anchor="end" fill="#111" >3</text>
<line x1="50.9" y1="414.77" x2="52.4" y2="414.77" stroke="#111" stroke-width="0.8"/>
<line x1="49.6" y1="404.20" x2="52.4" y2="404.20" stroke="#111" stroke-width="0.8"/>
<text x="45.6" y="407.30" font-size="8.7" text-anchor="end" fill="#111" >4</text>
<line x1="50.9" y1="393.62" x2="52.4" y2="393.62" stroke="#111" stroke-width="0.8"/>
<line x1="49.6" y1="383.05" x2="52.4" y2="383.05" stroke="#111" stroke-width="0.8"/>
<text x="45.6" y="386.15" font-size="8.7" text-anchor="end" fill="#111" >5</text>
<line x1="50.9" y1="372.48" x2="52.4" y2="372.48" stroke="#111" stroke-width="0.8"/>
<line x1="49.6" y1="361.90" x2="52.4" y2="361.90" stroke="#111" stroke-width="0.8"/>
<text x="45.6" y="365.00" font-size="8.7" text-anchor="end" fill="#111" >6</text>
<line x1="50.9" y1="351.32" x2="52.4" y2="351.32" stroke="#111" stroke-width="0.8"/>
<line x1="49.6" y1="340.75" x2="52.4" y2="340.75" stroke="#111" stroke-width="0.8"/>
<text x="45.6" y="343.85" font-size="8.7" text-anchor="end" fill="#111" >7</text>
<line x1="50.9" y1="330.18" x2="52.4" y2="330.18" stroke="#111" stroke-width="0.8"/>
<line x1="49.6" y1="319.60" x2="52.4" y2="319.60" stroke="#111" stroke-width="0.8"/>
<text x="45.6" y="322.70" font-size="8.7" text-anchor="end" fill="#111" >8</text>
<line x1="50.9" y1="309.03" x2="52.4" y2="309.03" stroke="#111" stroke-width="0.8"/>
<line x1="49.6" y1="298.45" x2="52.4" y2="298.45" stroke="#111" stroke-width="0.8"/>
<text x="45.6" y="301.55" font-size="8.7" text-anchor="end" fill="#111" >9</text>
<line x1="50.9" y1="287.88" x2="52.4" y2="287.88" stroke="#111" stroke-width="0.8"/>
<line x1="49.6" y1="277.30" x2="52.4" y2="277.30" stroke="#111" stroke-width="0.8"/>
<text x="45.6" y="280.40" font-size="8.7" text-anchor="end" fill="#111" >10</text>
<line x1="95.3" y1="424.7" x2="95.3" y2="428.4" stroke="#111" stroke-width="0.8"/>
<line x1="160.2" y1="424.7" x2="160.2" y2="428.4" stroke="#111" stroke-width="0.8"/>
<text x="0" y="0" font-size="9.8" textLength="99.2" lengthAdjust="spacingAndGlyphs" fill="#111" style="stroke-width:0.35px" transform="translate(29.6,399.0) rotate(-90)">Threshold O<tspan font-size="6.2" dy="2.2">2</tspan><tspan dy="-2.2"> concentration (%)</tspan></text>
<line x1="96.2" y1="288.5" x2="161.6" y2="288.5" stroke="#161616" stroke-width="1.0"/>
<circle cx="129.0" cy="284.0" r="1.0" fill="#222"/>
<line x1="95.4" y1="306.6" x2="95.4" y2="342.0" stroke="#161616" stroke-width="1.0"/>
<line x1="90.0" y1="306.6" x2="100.6" y2="306.6" stroke="#161616" stroke-width="1.0"/>
<line x1="90.0" y1="342.0" x2="100.6" y2="342.0" stroke="#161616" stroke-width="1.0"/>
<line x1="74.1" y1="324.45" x2="116.8" y2="324.45" stroke="#161616" stroke-width="1.1"/>
<circle cx="95.1" cy="298.9" r="2.9" fill="none" stroke="#C4234F" stroke-width="1.0"/>
<circle cx="95.1" cy="317.7" r="2.9" fill="none" stroke="#C4234F" stroke-width="1.0"/>
<circle cx="95.1" cy="323.9" r="2.9" fill="none" stroke="#C4234F" stroke-width="1.0"/>
<circle cx="95.1" cy="337.5" r="2.9" fill="none" stroke="#C4234F" stroke-width="1.0"/>
<circle cx="95.1" cy="343.5" r="2.9" fill="none" stroke="#C4234F" stroke-width="1.0"/>
<line x1="160.0" y1="339.2" x2="160.0" y2="396.8" stroke="#161616" stroke-width="1.0"/>
<line x1="154.7" y1="339.2" x2="165.3" y2="339.2" stroke="#161616" stroke-width="1.0"/>
<line x1="154.7" y1="396.8" x2="165.3" y2="396.8" stroke="#161616" stroke-width="1.0"/>
<line x1="149.2" y1="368.0" x2="170.4" y2="368.0" stroke="#161616" stroke-width="1.1"/>
<circle cx="160.0" cy="333.3" r="2.9" fill="none" stroke="#3D5FA0" stroke-width="1.0"/>
<circle cx="160.0" cy="364.0" r="2.9" fill="none" stroke="#3D5FA0" stroke-width="1.0"/>
<circle cx="160.0" cy="371.0" r="2.9" fill="none" stroke="#3D5FA0" stroke-width="1.0"/>
<circle cx="160.0" cy="404.2" r="2.9" fill="none" stroke="#3D5FA0" stroke-width="1.0"/>
<text x="0" y="0" font-size="7.7" text-anchor="end" textLength="26.5" lengthAdjust="spacingAndGlyphs" fill="#1a1a1a" transform="translate(92.0,434.5) rotate(-45)">Vehicle</text>
<text x="0" y="0" font-size="7.7" text-anchor="end" textLength="27.5" lengthAdjust="spacingAndGlyphs" fill="#1a1a1a" transform="translate(100.4,440.7) rotate(-45)">Control</text>
<text x="0" y="0" font-size="7.7" text-anchor="end" textLength="34.0" lengthAdjust="spacingAndGlyphs" fill="#1a1a1a" transform="translate(158.3,434.2) rotate(-45)">CKD-732</text>
<text x="0" y="0" font-size="7.7" text-anchor="end" textLength="47.5" lengthAdjust="spacingAndGlyphs" fill="#1a1a1a" transform="translate(164.4,440.7) rotate(-45)">(1 mpk, BID)</text>
<text x="221.0" y="257.7" font-size="12" font-weight="bold" fill="#000" style="stroke:#000;stroke-width:0.45px">D</text>
<text x="286.9" y="268.3" font-size="10.1" textLength="106.3" lengthAdjust="spacingAndGlyphs" fill="#111" >Blood flow velocity drop</text>
<line x1="263.9" y1="274.6" x2="263.9" y2="425.4" stroke="#111" stroke-width="1.3"/>
<line x1="263.29999999999995" y1="424.8" x2="414.6" y2="424.8" stroke="#111" stroke-width="1.3"/>
<line x1="261.09999999999997" y1="424.80" x2="263.9" y2="424.80" stroke="#111" stroke-width="0.8"/>
<text x="257.3" y="427.90" font-size="8.7" text-anchor="end" fill="#111" >10</text>
<line x1="261.09999999999997" y1="395.30" x2="263.9" y2="395.30" stroke="#111" stroke-width="0.8"/>
<text x="257.3" y="398.40" font-size="8.7" text-anchor="end" fill="#111" >15</text>
<line x1="261.09999999999997" y1="365.80" x2="263.9" y2="365.80" stroke="#111" stroke-width="0.8"/>
<text x="257.3" y="368.90" font-size="8.7" text-anchor="end" fill="#111" >20</text>
<line x1="261.09999999999997" y1="336.30" x2="263.9" y2="336.30" stroke="#111" stroke-width="0.8"/>
<text x="257.3" y="339.40" font-size="8.7" text-anchor="end" fill="#111" >25</text>
<line x1="261.09999999999997" y1="306.80" x2="263.9" y2="306.80" stroke="#111" stroke-width="0.8"/>
<text x="257.3" y="309.90" font-size="8.7" text-anchor="end" fill="#111" >30</text>
<line x1="261.09999999999997" y1="277.30" x2="263.9" y2="277.30" stroke="#111" stroke-width="0.8"/>
<text x="257.3" y="280.40" font-size="8.7" text-anchor="end" fill="#111" >35</text>
<line x1="306.6" y1="424.8" x2="306.6" y2="428.4" stroke="#111" stroke-width="0.8"/>
<line x1="371.4" y1="424.8" x2="371.4" y2="428.4" stroke="#111" stroke-width="0.8"/>
<text x="0" y="0" font-size="9.9" textLength="92.6" lengthAdjust="spacingAndGlyphs" fill="#111" style="stroke-width:0.35px" transform="translate(241.2,395.2) rotate(-90)">Normalized velocity drop (%)</text>
<line x1="303.1" y1="288.5" x2="371.8" y2="288.5" stroke="#161616" stroke-width="1.0"/>
<circle cx="337.4" cy="283.9" r="1.0" fill="#222"/>
<line x1="306.6" y1="300.5" x2="306.6" y2="366.2" stroke="#161616" stroke-width="1.0"/>
<line x1="301.2" y1="300.5" x2="311.9" y2="300.5" stroke="#161616" stroke-width="1.0"/>
<line x1="301.2" y1="366.2" x2="311.9" y2="366.2" stroke="#161616" stroke-width="1.0"/>
<line x1="295.9" y1="333.5" x2="317.4" y2="333.5" stroke="#161616" stroke-width="1.1"/>
<circle cx="306.6" cy="296.5" r="2.9" fill="none" stroke="#C4234F" stroke-width="1.0"/>
<circle cx="306.6" cy="315.2" r="2.9" fill="none" stroke="#C4234F" stroke-width="1.0"/>
<circle cx="306.6" cy="330.0" r="2.9" fill="none" stroke="#C4234F" stroke-width="1.0"/>
<circle cx="306.6" cy="341.1" r="2.9" fill="none" stroke="#C4234F" stroke-width="1.0"/>
<circle cx="306.6" cy="383.7" r="2.9" fill="none" stroke="#C4234F" stroke-width="1.0"/>
<line x1="371.3" y1="371.4" x2="371.3" y2="404.5" stroke="#161616" stroke-width="1.0"/>
<line x1="366.1" y1="371.4" x2="376.5" y2="371.4" stroke="#161616" stroke-width="1.0"/>
<line x1="366.1" y1="404.5" x2="376.5" y2="404.5" stroke="#161616" stroke-width="1.0"/>
<line x1="360.9" y1="388.0" x2="381.7" y2="388.0" stroke="#161616" stroke-width="1.1"/>
<circle cx="371.3" cy="372.4" r="2.9" fill="none" stroke="#3D5FA0" stroke-width="1.0"/>
<circle cx="383.3" cy="367.4" r="2.9" fill="none" stroke="#3D5FA0" stroke-width="1.0"/>
<circle cx="371.3" cy="396.6" r="2.9" fill="none" stroke="#3D5FA0" stroke-width="1.0"/>
<circle cx="383.3" cy="399.0" r="2.9" fill="none" stroke="#3D5FA0" stroke-width="1.0"/>
<circle cx="359.1" cy="403.5" r="2.9" fill="none" stroke="#3D5FA0" stroke-width="1.0"/>
<text x="0" y="0" font-size="7.7" text-anchor="end" textLength="29.0" lengthAdjust="spacingAndGlyphs" fill="#1a1a1a" transform="translate(302.6,432.8) rotate(-45)">Vehicle</text>
<text x="0" y="0" font-size="7.7" text-anchor="end" textLength="30.0" lengthAdjust="spacingAndGlyphs" fill="#1a1a1a" transform="translate(310.6,439.0) rotate(-45)">Control</text>
<text x="0" y="0" font-size="7.7" text-anchor="end" textLength="37.0" lengthAdjust="spacingAndGlyphs" fill="#1a1a1a" transform="translate(367.9,431.4) rotate(-45)">CKD-732</text>
<text x="0" y="0" font-size="7.7" text-anchor="end" textLength="47.5" lengthAdjust="spacingAndGlyphs" fill="#1a1a1a" transform="translate(374.2,441.4) rotate(-45)">(1 mpk, BID)</text>
<rect x="0" y="0" width="520" height="1" fill="#000"/>
<rect x="0" y="0" width="1" height="486" fill="#000"/>
<rect x="519" y="0" width="1" height="486" fill="#000"/>
<rect x="518" y="0" width="1" height="486" fill="#000" opacity="0.55"/>
<rect x="0" y="485" width="520" height="1" fill="#000"/>
<rect x="0" y="484" width="520" height="1" fill="#000" opacity="0.3"/>
</svg>
</body></html>
